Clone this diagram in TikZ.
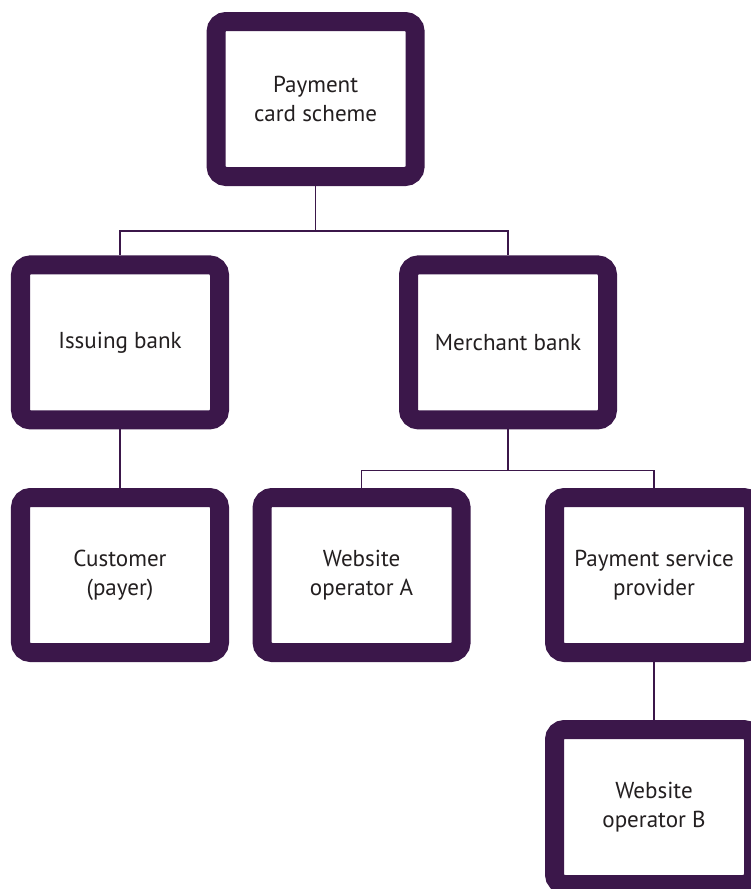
\documentclass[tikz,border=0pt]{standalone}
\usepackage{fontspec}
\setmainfont{PT Sans}
\usepackage{xcolor}
\usepackage{tikz}
\usetikzlibrary{calc}

\definecolor{cardpurple}{HTML}{3B174A}
\definecolor{cardtext}{HTML}{231F20}

\tikzset{
	card/.style={rectangle, draw=cardpurple, fill=white, line width=0.475cm, rounded corners=0.25cm,
		minimum width=4.975cm, minimum height=3.875cm, inner sep=0pt, align=center,
		text=cardtext, font=\fontsize{16.4}{20.6}\selectfont},
	link/.style={draw=cardpurple, line width=0.9pt}
}

\begin{document}
\begin{tikzpicture}[>=latex]
		\useasboundingbox (0,0) rectangle (18.775,-22.225);
		\clip (0,0) rectangle (18.775,-22.225);

		%Top level
		\node at (7.89,-2.475) (scheme)[card] {Payment\\card scheme};

		% Banks
		\node at (3.0,-8.56) (issuing)[card] {Issuing bank};
		\node at (12.7,-8.56) (merchant)[card] {Merchant bank};

		% Customers and operators
		\node at (3.0,-14.375) (customer)[card] {Customer\\(payer)};
		\node at (9.04,-14.375) (websiteA)[card] {Website\\operator A};
		\node at (16.35,-14.375) (psp)[card] {Payment service\\provider};

		% Bottom
		\node at (16.35,-20.175) (websiteB)[card] {Website\\operator B};

		% Links
		\draw[link] (scheme.south) -- ++(0,-1.125) -| (issuing.north);
		\draw[link] (scheme.south) -- ++(0,-1.125) -| (merchant.north);
		\draw[link] (issuing.south) -- (customer.north);
		\draw[link] (merchant.south) -- ++(0,-1.025) -| (websiteA.north);
		\draw[link] (merchant.south) -- ++(0,-1.025) -| (psp.north);
		\draw[link] (psp.south) -- (websiteB.north);

	\end{tikzpicture}
\end{document}
